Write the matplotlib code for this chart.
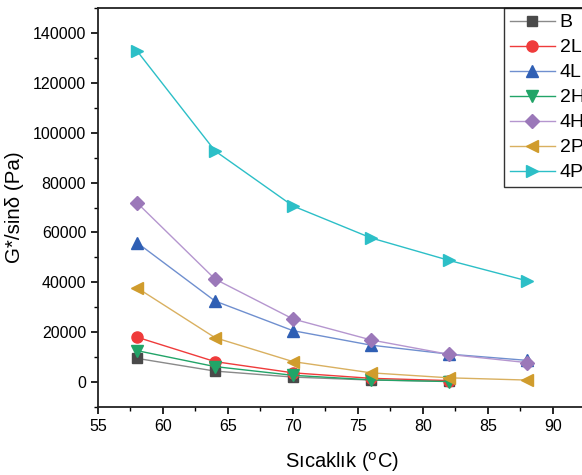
import matplotlib
matplotlib.use("Agg")
import matplotlib.pyplot as plt
from matplotlib.ticker import MultipleLocator

plt.rcParams['font.family'] = ['Liberation Sans', 'DejaVu Sans']

temps = [58, 64, 70, 76, 82, 88]
series_names = ["B", "2L", "4L", "2H", "4H", "2P", "4P"]
B  = [9500, 4400, 2000, 800, 300]
L2 = [18000, 8200, 3700, 1500, 600]
L4 = [55900, 32500, 20600, 14800, 11200, 8700]
H2 = [12600, 6200, 2700, 900, 200]
H4 = [71900, 41300, 25300, 16900, 11100, 7800]
P2 = [37800, 17800, 8200, 3700, 1700, 800]
P4 = [132800, 92700, 70600, 57800, 48800, 40600]

values = [B, L2, L4, H2, H4, P2, P4]
markers = ["s", "o", "^", "v", "D", "<", ">"]
colors = ["#4a4a4a", "#ef3b3b", "#2f5fb4", "#22a468", "#9b78b9", "#d09c2d", "#2cbfc7"]
linecolors = ["#8a8a8a", "#ef3b3b", "#6f8fcf", "#22a468", "#b596cf", "#d9b060", "#2cbfc7"]
msizes = [7, 8, 8, 8, 7, 8, 8]

fig = plt.figure(figsize=(5.82, 4.75), dpi=100)
ax = fig.add_axes([98/582, 68/475, (585.5-98)/582, 399/475])

for name, v, m, c, lc, ms in zip(series_names, values, markers, colors, linecolors, msizes):
    ax.plot(temps[:len(v)], v, color=lc, lw=1.0, marker=m, markersize=ms,
            markerfacecolor=c, markeredgecolor=c, label=name)

ax.set_xlim(55, 92.5)
ax.set_ylim(-10000, 150000)
ax.xaxis.set_major_locator(MultipleLocator(5))
ax.xaxis.set_minor_locator(MultipleLocator(2.5))
ax.set_yticks(range(0, 140001, 20000))
ax.yaxis.set_minor_locator(MultipleLocator(10000))
ax.tick_params(axis='both', which='major', direction='out', length=5, width=1.2, labelsize=11.5, colors='black')
ax.tick_params(axis='both', which='minor', direction='out', length=3, width=1.0)
ax.tick_params(top=False, right=False, which='both')
for s in ['left', 'bottom', 'top', 'right']:
    ax.spines[s].set_linewidth(1.3)
    ax.spines[s].set_color('#222222')

ax.set_xlabel("Sıcaklık ($^{\\rm o}$C)", fontsize=14.5, labelpad=12)
ax.set_ylabel("G*/sinδ (Pa)", fontsize=14.8, labelpad=6)

leg = ax.legend(loc='upper left', bbox_to_anchor=(0.833, 1.0), borderaxespad=0,
                fontsize=14, frameon=True, fancybox=False, edgecolor='black',
                handlelength=2.3, handletextpad=0.25, labelspacing=0.38,
                borderpad=0.3)
leg.get_frame().set_linewidth(1.0)

fig.savefig("out.png", dpi=100)
